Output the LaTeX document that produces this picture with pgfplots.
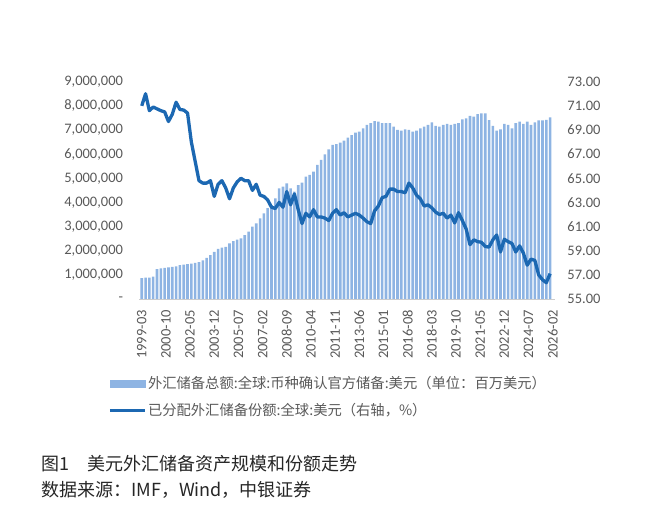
\documentclass[border=0pt]{standalone}
\usepackage{fontspec}
\setmainfont{Carlito}
\newfontfamily\cjk{Noto Sans CJK SC}
\usepackage{pgfplots}
\pgfplotsset{compat=1.18}
\usepackage{pgfplotstable}
\definecolor{barblue}{RGB}{142,180,227}
\definecolor{lineblue}{RGB}{28,104,178}
\definecolor{txtgray}{RGB}{89,89,89}
\pgfplotstableread{
q res share
0 860000 71.0
1 880000 72.0
2 890000 70.6
3 930000 70.9
4 1240000 70.75
5 1270000 70.6
6 1290000 70.5
7 1310000 69.7
8 1330000 70.3
9 1350000 71.3
10 1400000 70.7
11 1420000 70.65
12 1440000 70.4
13 1470000 68.0
14 1500000 66.4
15 1530000 64.8
16 1600000 64.6
17 1700000 64.6
18 1820000 64.8
19 1950000 63.5
20 2080000 64.5
21 2130000 64.8
22 2160000 64.2
23 2300000 63.3
24 2400000 64.2
25 2460000 64.7
26 2510000 65.0
27 2650000 64.8
28 2790000 64.8
29 3000000 64.0
30 3130000 64.5
31 3340000 63.6
32 3550000 63.5
33 3760000 63.2
34 3890000 62.6
35 4170000 62.5
36 4580000 63.0
37 4650000 62.6
38 4790000 63.9
39 4580000 62.8
40 4450000 63.7
41 4720000 62.4
42 4820000 61.25
43 5070000 62.1
44 5140000 61.8
45 5280000 62.4
46 5550000 61.8
47 5760000 61.8
48 5990000 61.7
49 6200000 61.5
50 6380000 62.1
51 6410000 62.4
52 6480000 61.95
53 6560000 62.15
54 6680000 61.8
55 6790000 61.95
56 6890000 62.1
57 6930000 61.95
58 7070000 61.7
59 7210000 61.4
60 7280000 61.25
61 7370000 62.3
62 7350000 62.7
63 7280000 63.4
64 7280000 63.5
65 7280000 64.1
66 7140000 64.1
67 7000000 63.9
68 6970000 63.9
69 7030000 63.8
70 7000000 64.6
71 6930000 64.2
72 6970000 63.6
73 7070000 63.3
74 7140000 62.7
75 7210000 62.8
76 7310000 62.55
77 7170000 62.2
78 7140000 62.0
79 7210000 62.1
80 7250000 61.7
81 7210000 61.95
82 7250000 61.3
83 7280000 62.15
84 7440000 61.5
85 7480000 60.8
86 7580000 59.5
87 7550000 59.9
88 7660000 59.75
89 7690000 59.7
90 7690000 59.35
91 7410000 59.3
92 7170000 59.9
93 6970000 60.3
94 7030000 58.9
95 7250000 59.95
96 7210000 59.75
97 7070000 59.6
98 7280000 58.9
99 7350000 59.4
100 7250000 58.8
101 7350000 57.8
102 7210000 58.3
103 7310000 58.2
104 7400000 57.0
105 7400000 56.6
106 7420000 56.35
107 7520000 57.1
}\data
\begin{document}
\begin{tikzpicture}
\path[use as bounding box] (0,0) rectangle (653pt,521pt);
\pgfplotsset{
  base/.style={
    at={(139.2pt,222pt)}, anchor=south west,
    scale only axis, width=416pt, height=217.3pt,
    xmin=-2, xmax=325,
    major tick length=0pt,
    tick style={draw=none},
    ticklabel style={font=\fontsize{14.5}{16}\selectfont, text=txtgray},
  }
}
\begin{axis}[base,
  ymin=0, ymax=9000000,
  scaled y ticks=false,
  axis y line*=left, axis x line*=bottom,
  y axis line style={draw=none},
  x axis line style={draw=black!20, line width=0.6pt},
  ytick={0,1000000,2000000,3000000,4000000,5000000,6000000,7000000,8000000,9000000},
  yticklabels={{-\hspace{8pt}},{1,000,000},{2,000,000},{3,000,000},{4,000,000},{5,000,000},{6,000,000},{7,000,000},{8,000,000},{9,000,000}},
  yticklabel style={inner sep=0pt, xshift=-16pt},
  xtick={0,19,38,57,76,95,114,133,152,171,190,209,228,247,266,285,304,323},
  xticklabels={1999-03,2000-10,2002-05,2003-12,2005-07,2007-02,2008-09,2010-04,2011-11,2013-06,2015-01,2016-08,2018-03,2019-10,2021-05,2022-12,2024-07,2026-02},
  xticklabel style={rotate=90, anchor=east, inner sep=0pt, xshift=-11pt},
]
\addplot[ybar, bar width=2.6pt, fill=barblue, draw=none] table[x expr=\thisrow{q}*3, y=res] {\data};
\end{axis}
\begin{axis}[base,
  ymin=55, ymax=73,
  axis y line*=right, axis x line=none,
  y axis line style={draw=none},
  ytick={55,57,59,61,63,65,67,69,71,73},
  /pgf/number format/fixed, /pgf/number format/fixed zerofill,
  /pgf/number format/precision=2, /pgf/number format/assume math mode=true,
  yticklabel style={inner sep=0pt, xshift=12pt},
  legend cell align=left,
  legend style={at={(axis description cs:-0.075,-0.35)}, anchor=north west, draw=none, fill=none,
    font=\cjk\fontsize{14.3}{16}\selectfont, text=txtgray, row sep=10pt, inner sep=0pt,
    nodes={inner sep=1.5pt}},
]
\addlegendimage{legend image code/.code={\fill[barblue] (0pt,-3.5pt) rectangle (35pt,3.5pt);}}
\addlegendentry{外汇储备总额:全球:币种确认官方储备:美元（单位：百万美元）}
\addplot[lineblue, line width=3.3pt, line join=round,
  legend image code/.code={\draw[lineblue, line width=3.3pt] (0pt,0pt) -- (35pt,0pt);}]
  table[x expr=\thisrow{q}*3, y=share] {\data};
\addlegendentry{已分配外汇储备份额:全球:美元（右轴，\%）}
\end{axis}
\node[anchor=west, inner sep=0pt, font=\cjk\fontsize{18}{20}\selectfont, text=black!85] at (41pt,57pt) {图1\hspace{1em}美元外汇储备资产规模和份额走势};
\node[anchor=west, inner sep=0pt, font=\cjk\fontsize{18}{20}\selectfont, text=black!85] at (41pt,31pt) {数据来源：IMF，Wind，中银证券};
\end{tikzpicture}
\end{document}
